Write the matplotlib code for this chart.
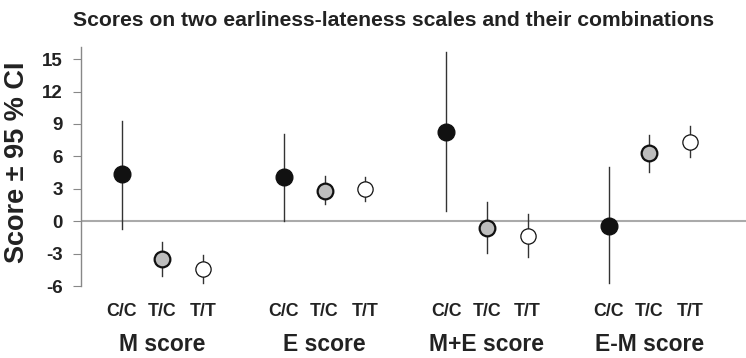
import numpy as np
import matplotlib.pyplot as plt

plt.rcParams['font.family'] = ['Liberation Sans', 'DejaVu Sans']

groups = ['M score', 'E score', 'M+E score', 'E-M score']
genotypes = ['C/C', 'T/C', 'T/T']

# mean, lower CI, upper CI per group, in genotype order C/C, T/C, T/T
means = {
    'M score':   [4.4, -3.5, -4.4],
    'E score':   [4.1, 2.8, 3.0],
    'M+E score': [8.3, -0.6, -1.4],
    'E-M score': [-0.4, 6.3, 7.3],
}
lower = {
    'M score':   [-0.7, -5.1, -5.75],
    'E score':   [0.0, 1.55, 1.9],
    'M+E score': [0.95, -2.9, -3.35],
    'E-M score': [-5.75, 4.55, 5.9],
}
upper = {
    'M score':   [9.3, -1.9, -3.15],
    'E score':   [8.1, 4.2, 4.1],
    'M+E score': [15.7, 1.75, 0.65],
    'E-M score': [5.0, 7.95, 8.8],
}
yticks = [-6, -3, 0, 3, 6, 9, 12, 15]

styles = {
    'C/C': dict(mfc='#111111', mec='#111111', ms=12, mew=1.0),
    'T/C': dict(mfc='#bdbdbd', mec='#111111', ms=11.3, mew=1.6),
    'T/T': dict(mfc='white', mec='#111111', ms=11, mew=0.9),
}

fig = plt.figure(figsize=(7.46, 3.58), dpi=100)
ax = fig.add_axes([0.1086, 0.2011, 0.8914, 0.6668])
ax.set_clip_on(False)

ax.axhline(0, color='#aaaaaa', lw=1.5, zorder=1)

for gi, g in enumerate(groups):
    for ki, gt in enumerate(genotypes):
        x = gi * 4 + ki + 1
        m = means[g][ki]
        ax.plot([x, x], [lower[g][ki], upper[g][ki]], color='#333333', lw=1.0, zorder=2)
        ax.plot(x, m, 'o', zorder=3, **styles[gt])
        ax.text(x, -8.4, gt, ha='center', va='center', fontsize=12.8, fontweight='bold',
                color='#222222')
    cx = gi * 4 + 2
    ax.text(cx, -11.4, g, ha='center', va='center', fontsize=16.5, fontweight='bold',
            color='#222222')

ax.set_xlim(0, 16.38)
ax.set_ylim(-6, 16.1)
ax.set_yticks(yticks)
ax.set_yticklabels([str(t) for t in yticks], fontsize=13.5, fontweight='bold', color='#222222')
ax.tick_params(axis='y', direction='out', length=6, color='#888888', pad=7)
ax.set_xticks([])
for s in ['top', 'right', 'bottom']:
    ax.spines[s].set_visible(False)
ax.spines['left'].set_color('#888888')
ax.spines['left'].set_linewidth(1.0)

fig.text(0.023, 0.547, 'Score ± 95 % CI', rotation=90, ha='center', va='center',
         fontsize=19.5, fontweight='bold', color='#222222')
fig.text(0.528, 0.944, 'Scores on two earliness-lateness scales and their combinations',
         ha='center', va='center', fontsize=15.2, fontweight='bold', color='#222222')

fig.savefig('out.png', dpi=100)
